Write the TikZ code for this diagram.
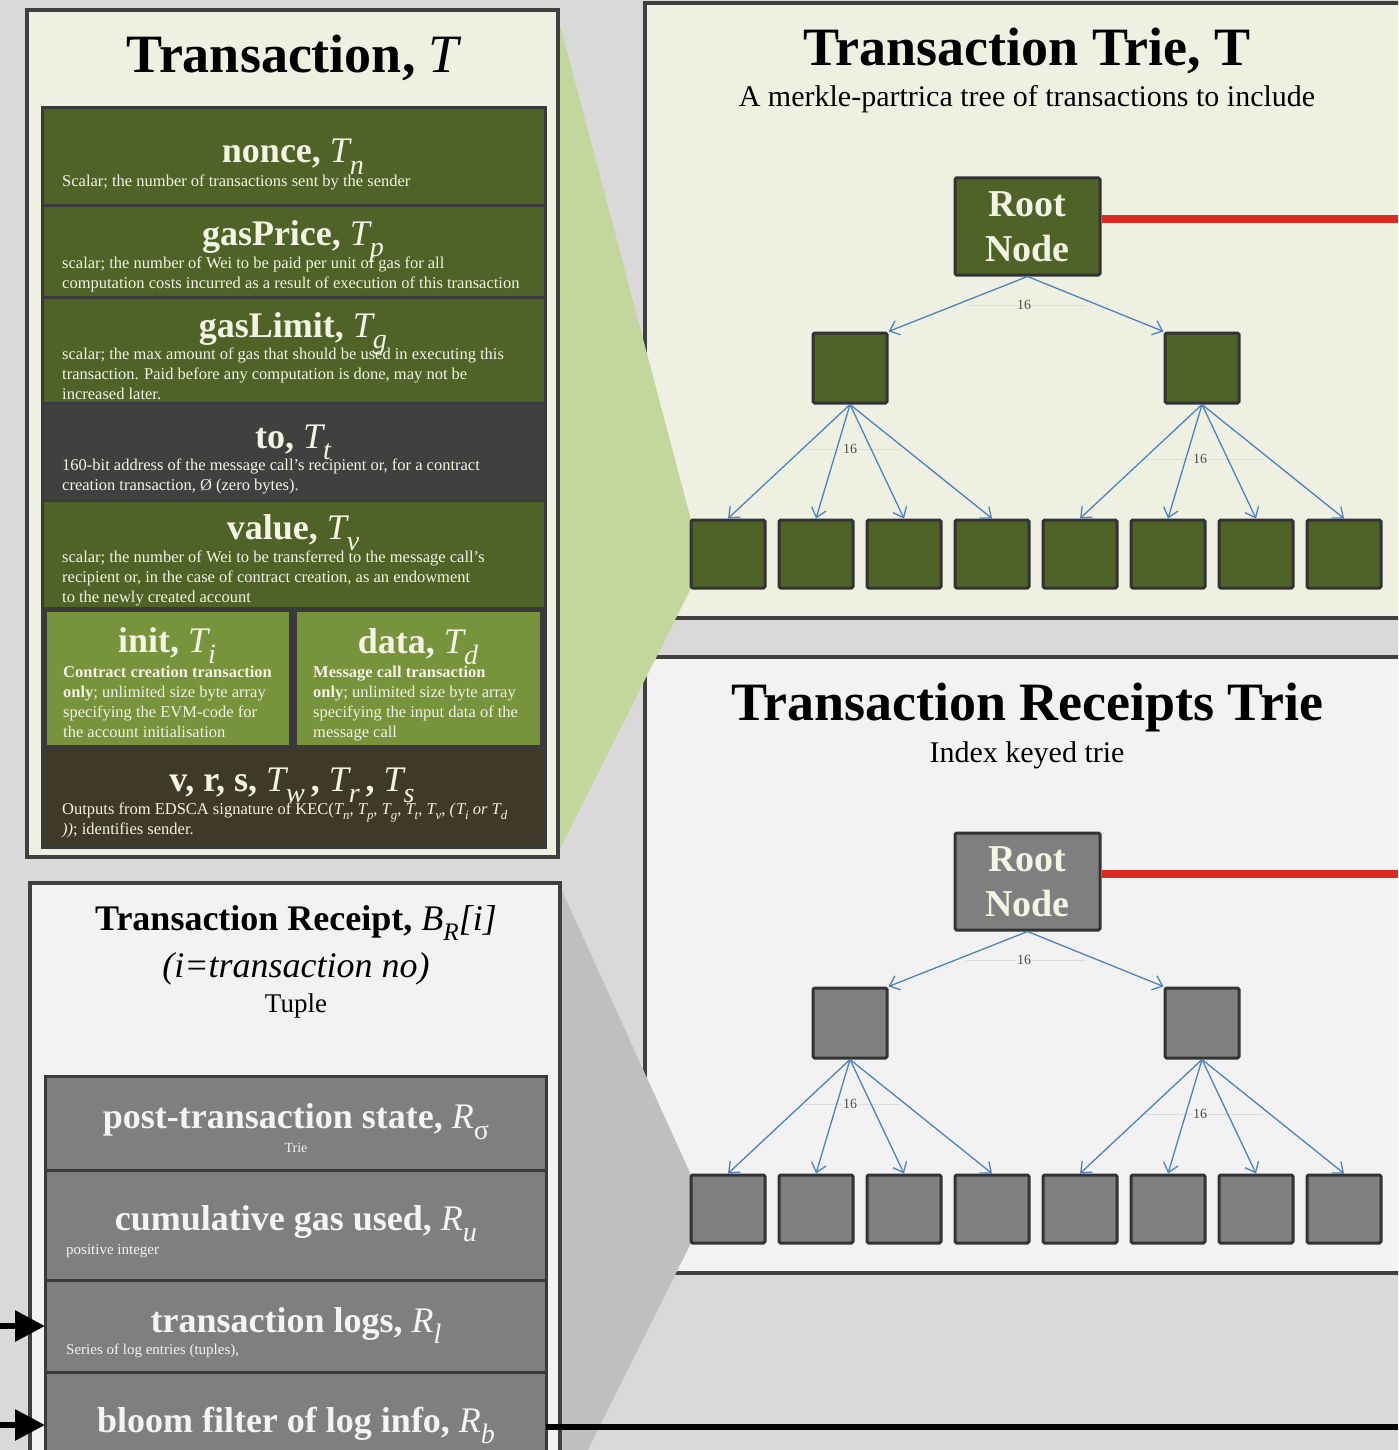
\documentclass[tikz,border=0pt]{standalone}
\usepackage{fontspec}
\setmainfont{Liberation Serif}
\usetikzlibrary{arrows.meta}

\definecolor{bg}{HTML}{D9D9D9}
\definecolor{cream}{HTML}{EEF1E2}
\definecolor{paper}{HTML}{F2F2F2}
\definecolor{frame}{HTML}{404040}
\definecolor{rowline}{HTML}{3A3A3A}
\definecolor{nodeline}{HTML}{333333}
\definecolor{olive}{HTML}{4F6228}
\definecolor{olivelight}{HTML}{77933C}
\definecolor{slate}{HTML}{404040}
\definecolor{umber}{HTML}{3F3A28}
\definecolor{wedgegreen}{HTML}{C3D69B}
\definecolor{wedgegray}{HTML}{BFBFBF}
\definecolor{stone}{HTML}{7F7F7F}
\definecolor{linkblue}{HTML}{4F81BD}
\definecolor{rootred}{HTML}{DC2A22}
\definecolor{ink}{HTML}{F4F4E4}
\definecolor{snow}{HTML}{F4F4F4}

% symbol with an italic, lowered subscript
\newcommand\Sym[2]{{\mdseries\itshape #1}\raisebox{-0.32em}{\scalebox{0.78}{\mdseries\itshape #2}}}
\newcommand\SymUp[2]{{\mdseries\itshape #1}\raisebox{-0.32em}{\scalebox{0.78}{\mdseries #2}}}

\tikzset{
  panel/.style={draw=frame, line width=3.5pt},
  field/.style={anchor=north west, draw=rowline, line width=3pt, inner sep=0pt, outer sep=0pt},
  heading/.style={anchor=base, inner sep=0pt, font=\bfseries\fontsize{54}{60}\selectfont},
  caption/.style={anchor=base, inner sep=0pt, font=\fontsize{30}{34}\selectfont},
  fieldname/.style={anchor=base, inner sep=0pt, text=ink, font=\bfseries\fontsize{36}{40}\selectfont},
  % the base of a multi-line note is the baseline of its last line
  fieldnote/.style={anchor=base west, inner sep=0pt, text=ink, align=left, font=\fontsize{16.5}{20}\selectfont},
  rootbox/.style={draw=nodeline, line width=3pt, minimum width=145pt, minimum height=97pt,
    inner sep=0pt, text=ink, align=center, font=\bfseries\fontsize{38}{45}\selectfont, rounded corners=1.5pt},
  treebox/.style={draw=nodeline, line width=3pt, minimum width=74pt, inner sep=0pt, rounded corners=1.5pt},
  link/.style={draw=linkblue, line width=1.3pt, -{Straight Barb[length=9pt,width=15pt]}},
  hint/.style={draw=black!14, line width=1pt},
  fan/.style={inner sep=1pt, text=black!70, font=\fontsize{14}{14}\selectfont},
  rootwire/.style={draw=rootred, line width=8pt},
  feed/.style={draw=black, line width=6pt, -{Triangle[length=30pt,width=30pt]}},
  bus/.style={draw=black, line width=6pt},
}

% one 16-ary trie: #1 name prefix, #2 node fill, #3 panel fill
\newcommand\trie[3]{%
  \draw[hint] (966,305) -- (1086,305);
  \draw[hint] (804,449) -- (901,449);
  \draw[hint] (1142,459) -- (1263,459);
  \node[fan, fill=#3] (#1fanA) at (1024,305) {16};
  \node[fan, fill=#3] (#1fanB) at (850,449) {16};
  \node[fan, fill=#3] (#1fanC) at (1200,459) {16};
  \node[rootbox, fill=#2] (#1root) at (1027.5,226.5) {Root\\Node};
  \node[treebox, fill=#2, minimum height=70pt] (#1midL) at (850,368) {};
  \node[treebox, fill=#2, minimum height=70pt] (#1midR) at (1202,368) {};
  \foreach \k in {1,...,8}{
    \node[treebox, fill=#2, minimum height=68pt] (#1leaf\k) at ({728+88*(\k-1)},554) {};
  }
  \draw[link] (#1root.south) -- (#1midL.north east);
  \draw[link] (#1root.south) -- (#1midR.north west);
  \foreach \k in {1,...,4}{\draw[link] (#1midL.south) -- (#1leaf\k.north);}
  \foreach \k in {5,...,8}{\draw[link] (#1midR.south) -- (#1leaf\k.north);}
  \coordinate (#1wire) at (1398,219);
  \draw[rootwire] (#1root.east |- #1wire) -- (#1wire);
}

\begin{document}
\begin{tikzpicture}[x=1pt,y=-1pt]
\useasboundingbox (0,0) rectangle (1398,1450);
\clip (0,0) rectangle (1398,1450);
\fill[bg] (0,0) rectangle (1398,1450);

% trie panels
\draw[panel, fill=cream] (645,3) rectangle (1430,618);
\draw[panel, fill=paper] (645,657) rectangle (1430,1273);

% projection wedges
\fill[wedgegreen] (556,10) -- (691,520) -- (691,588) -- (556,857) -- cycle;
\fill[wedgegray] (558,882) -- (691,1175) -- (691,1243) -- (558,1510) -- cycle;

% ---------------- Transaction ----------------
\draw[panel, fill=cream] (27,10) rectangle (558,857);
\node[heading] (txTitle) at (293,73) {Transaction, {\mdseries\itshape T}};

\node[field, fill=olive, minimum width=503pt, minimum height=97pt] (nonce) at (42,108) {};
\node[field, fill=olive, minimum width=503pt, minimum height=92pt] (gasprice) at (42,205) {};
\node[field, fill=olive, minimum width=503pt, minimum height=106pt] (gaslimit) at (42,297) {};
\node[field, fill=slate, minimum width=503pt, minimum height=97pt] (recipient) at (42,403) {};
\node[field, fill=olive, minimum width=503pt, minimum height=108pt] (value) at (42,500) {};
\node[field, fill=rowline, minimum width=503pt, minimum height=140pt] (payload) at (42,608) {};
\node[field, fill=olivelight, line width=1pt, minimum width=243pt, minimum height=134pt] (init) at (46,611) {};
\node[field, fill=olivelight, line width=1pt, minimum width=244pt, minimum height=134pt] (data) at (296,611) {};
\node[field, fill=umber, minimum width=503pt, minimum height=99pt] (vrs) at (42,748) {};

\node[fieldname] (nonceT) at (293,163) {nonce, \Sym{T}{n}};
\node[fieldnote] (nonceN) at (62,186) {Scalar; the number of transactions sent by the sender};

\node[fieldname] (gaspriceT) at (293,245) {gasPrice, \Sym{T}{p}};
\node[fieldnote] (gaspriceN) at (62,288) {scalar; the number of Wei to be paid per unit of gas for all\\computation costs incurred as a result of execution of this transaction};

\node[fieldname] (gaslimitT) at (293,337) {gasLimit, \Sym{T}{g}};
\node[fieldnote] (gaslimitN) at (62,399) {scalar; the max amount of gas that should be used in executing this\\transaction. Paid before any computation is done, may not be\\increased later.};

\node[fieldname] (recipientT) at (293,448) {to, \Sym{T}{t}};
\node[fieldnote] (recipientN) at (62,490) {160-bit address of the message call's recipient or, for a contract\\creation transaction, Ø (zero bytes).};

\node[fieldname] (valueT) at (293,539) {value, \Sym{T}{v}};
\node[fieldnote] (valueN) at (62,602) {scalar; the number of Wei to be transferred to the message call's\\recipient or, in the case of contract creation, as an endowment\\to the newly created account};

\node[fieldname] (initT) at (167,652) {init, \Sym{T}{i}};
\node[fieldnote] (initN) at (63,737) {\textbf{Contract creation transaction}\\\textbf{only}; unlimited size byte array\\specifying the EVM-code for\\the account initialisation};

\node[fieldname] (dataT) at (418,653) {data, \Sym{T}{d}};
\node[fieldnote] (dataN) at (313,737) {\textbf{Message call transaction}\\\textbf{only}; unlimited size byte array\\specifying the input data of the\\message call};

\node[fieldname] (vrsT) at (292,791) {v, r, s, \Sym{T}{w}\,, \Sym{T}{r}\,, \Sym{T}{s}};
\node[fieldnote] (vrsN) at (62,834) {Outputs from EDSCA signature of KEC(\Sym{T}{n}, \Sym{T}{p}, \Sym{T}{g}, \Sym{T}{t}, \Sym{T}{v}, \textit{(}\Sym{T}{i} \textit{or} \Sym{T}{d}\\\textit{))}; identifies sender.};

% ---------------- Transaction receipt ----------------
\draw[panel, fill=paper] (30,883) rectangle (560,1480);
\node[anchor=base, inner sep=0pt, font=\bfseries\fontsize{36}{40}\selectfont] (rcTitle) at (296,930)
  {Transaction Receipt, {\mdseries\itshape B}\raisebox{-0.3em}{\scalebox{0.7}{\mdseries\itshape R}}{\mdseries\itshape [i]}};
\node[anchor=base, inner sep=0pt, font=\itshape\fontsize{36}{40}\selectfont] (rcIndex) at (296,977) {(i=transaction no)};
\node[anchor=base, inner sep=0pt, font=\fontsize{27}{30}\selectfont] (rcKind) at (296,1012) {Tuple};

\node[field, fill=stone, minimum width=501pt, minimum height=94pt] (post) at (45,1076) {};
\node[field, fill=stone, minimum width=501pt, minimum height=110pt] (cumgas) at (45,1170) {};
\node[field, fill=stone, minimum width=501pt, minimum height=92pt] (logs) at (45,1280) {};
\node[field, fill=stone, minimum width=501pt, minimum height=106pt] (bloom) at (45,1372) {};

\node[fieldname, text=snow] (postT) at (296,1128) {post-transaction state, \SymUp{R}{σ}};
\node[anchor=base, inner sep=0pt, text=snow, font=\fontsize{14}{16}\selectfont] (postN) at (296,1152) {Trie};
\node[fieldname, text=snow] (cumgasT) at (296,1230) {cumulative gas used, \Sym{R}{u}};
\node[fieldnote, text=snow, font=\fontsize{15}{18}\selectfont] (cumgasN) at (66,1254) {positive integer};
\node[fieldname, text=snow] (logsT) at (296,1332) {transaction logs, \Sym{R}{l}};
\node[fieldnote, text=snow, font=\fontsize{15}{18}\selectfont] (logsN) at (66,1354) {Series of log entries (tuples),};
\node[fieldname, text=snow] (bloomT) at (296,1432) {bloom filter of log info, \Sym{R}{b}};

% ---------------- tries ----------------
\node[heading] (ttTitle) at (1027,66) {Transaction Trie, T};
\node[caption] (ttNote) at (1027,107) {A merkle-partrica tree of transactions to include};
\trie{t}{olive}{cream}

\node[heading] (rtTitle) at (1027,720) {Transaction Receipts Trie};
\node[caption] (rtNote) at (1027,762) {Index keyed trie};
\begin{scope}[shift={(0,655)}]
  \trie{r}{stone}{paper}
\end{scope}

% incoming and outgoing links
\coordinate (feedA) at (0,1326);
\coordinate (feedB) at (0,1425);
\draw[feed] (feedA) -- (logs.west);
\draw[feed] (feedB) -- (bloom.west);
\coordinate (busEnd) at (1398,1427);
\draw[bus] (bloom.east |- busEnd) -- (busEnd);
\end{tikzpicture}
\end{document}
